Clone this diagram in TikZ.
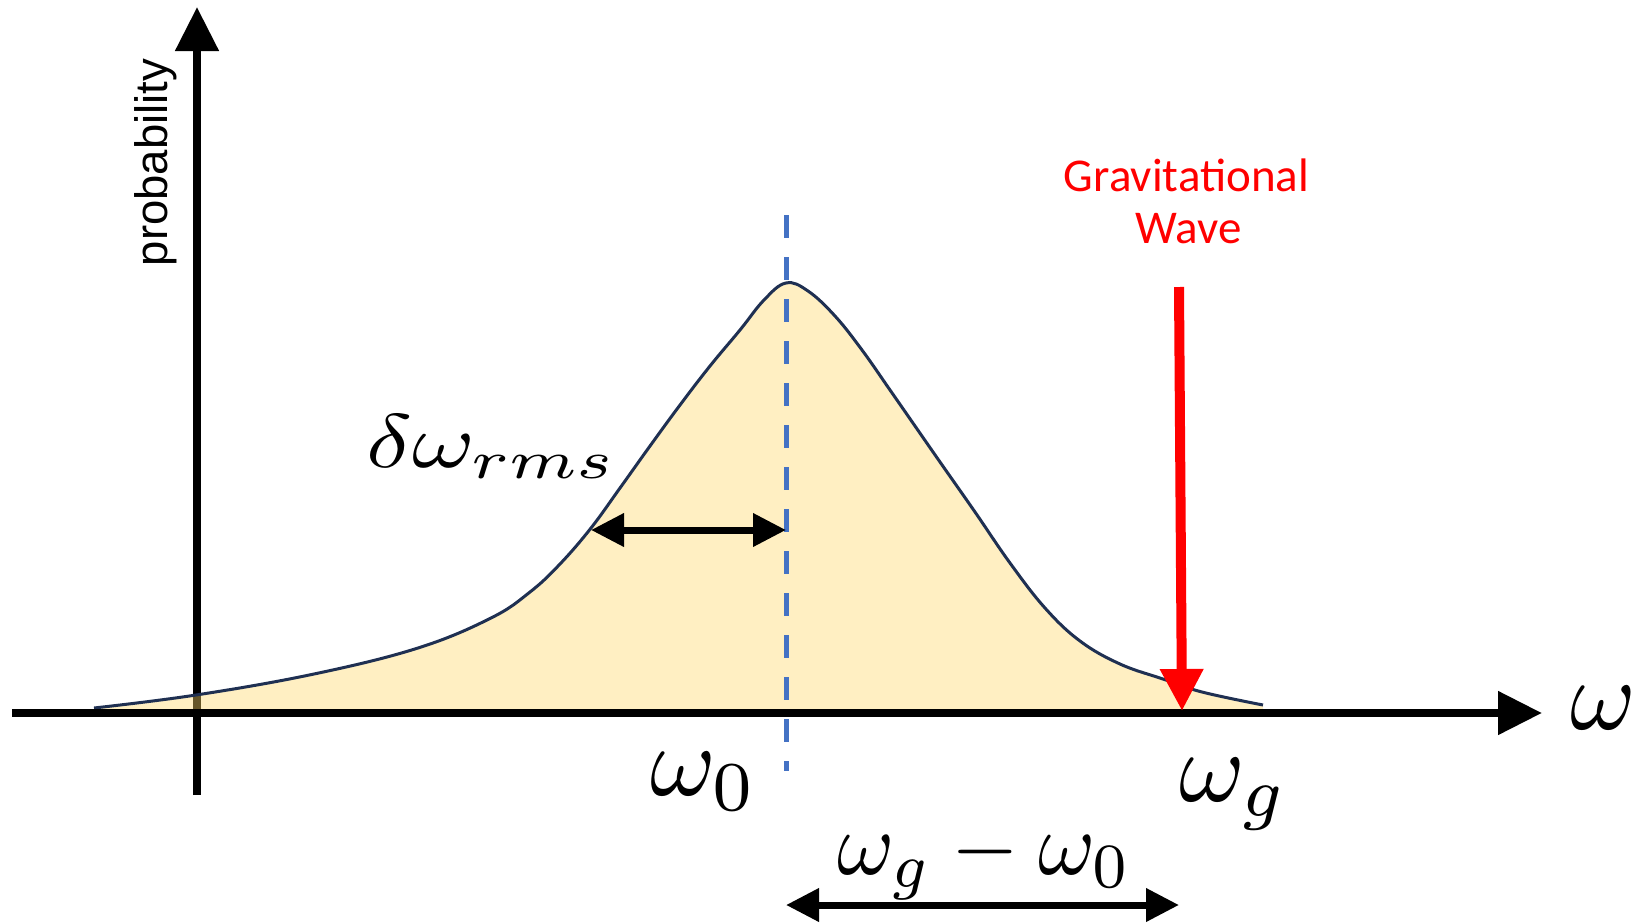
\documentclass[tikz,border=0pt]{standalone}
\usepackage{fontspec}
\usepackage{graphicx}
\usetikzlibrary{arrows.meta}
\newfontfamily\calfont{Carlito}
\newfontfamily\arfont{Liberation Sans}
\definecolor{curvefill}{RGB}{255,215,102}
\definecolor{curveline}{RGB}{31,48,82}
\definecolor{dashblue}{RGB}{68,114,196}
\definecolor{gwred}{RGB}{255,0,0}
\begin{document}
\begin{tikzpicture}[x=1pt,y=-1pt,
  axis/.style={line width=8pt, -{Triangle[length=44pt,width=42pt]}},
  dimarrow/.style={line width=7pt, {Triangle[length=33pt,width=32pt]}-{Triangle[length=33pt,width=32pt]}},
  mathlabel/.style={inner sep=0pt, anchor=base west},
  gwtext/.style={anchor=base, inner sep=0pt, text=gwred, font=\calfont\fontsize{47}{52}\selectfont},
  curvepts/.style={smooth, tension=0.65}
]
\useasboundingbox (0,0) rectangle (1639,922);
% named coordinates
\coordinate (yb) at (197,795);
\coordinate (yt) at (197,7);
\coordinate (xl) at (12,713);
\coordinate (xr) at (1542,713);
\coordinate (d1) at (786,215);
\coordinate (d2) at (786,771);
\coordinate (rmsL) at (591,530);
\coordinate (rmsR) at (786,530);
\coordinate (bL) at (786,905);
\coordinate (bR) at (1179,905);
\coordinate (gwa) at (1179,287);
\coordinate (gwb) at (1182,711);
% y axis
\draw[axis] (yb) -- (yt);
% distribution
\fill[curvefill, fill opacity=0.4] plot[curvepts] coordinates {
 (94,708) (196,695) (314,674) (418,648) (491,618) (530,592) (560,564) (591,528)
 (620,488) (650,446) (680,405) (710,366) (740,330) (764,300) (786,283) (808,291) (835,316)
 (862,350) (890,390) (915,426) (940,462) (975,512) (1010,563) (1045,608) (1080,641)
 (1120,664) (1163,679) (1202,692) (1263,705)} -- (1263,709) -- (94,709) -- cycle;
\draw[curveline, line width=3pt] plot[curvepts] coordinates {
 (94,708) (196,695) (314,674) (418,648) (491,618) (530,592) (560,564) (591,528)
 (620,488) (650,446) (680,405) (710,366) (740,330) (764,300) (786,283) (808,291) (835,316)
 (862,350) (890,390) (915,426) (940,462) (975,512) (1010,563) (1045,608) (1080,641)
 (1120,664) (1163,679) (1202,692) (1263,705)};
% x axis
\draw[axis] (xl) -- (xr);
% dashed centre line
\draw[dashblue, line width=5pt, dash pattern=on 23pt off 19pt] (d1) -- (d2);
% dimension arrows
\draw[dimarrow] (rmsL) -- (rmsR);
\draw[dimarrow] (bL) -- (bR);
% gravitational wave arrow
\draw[gwred, line width=10pt, -{Triangle[length=42pt,width=41pt]}] (gwa) -- (gwb);
% labels
\node[mathlabel] (w0) at (650,795) {\scalebox{10}{$\omega_0$}};
\node[mathlabel] (wg) at (1179,801) {\scalebox{10}{$\omega_g$}};
\node[mathlabel] (wgw0) at (837,874) {\scalebox{8.7}[9]{$\omega_g-\omega_0$}};
\node[mathlabel] (wax) at (1570,729) {\scalebox{10}{$\omega$}};
\node[mathlabel] (drms) at (366,467) {\scalebox{9.55}[7.6]{$\delta\omega_{rms}$}};
\node[rotate=90, inner sep=0pt, font=\arfont\fontsize{45.5}{50}\selectfont] (prob) at (156,162.5) {probability};
\node[gwtext] (gw1) at (1186.5,191) {Gravitational};
\node[gwtext] (gw2) at (1188.5,243) {Wave};
\end{tikzpicture}
\end{document}
